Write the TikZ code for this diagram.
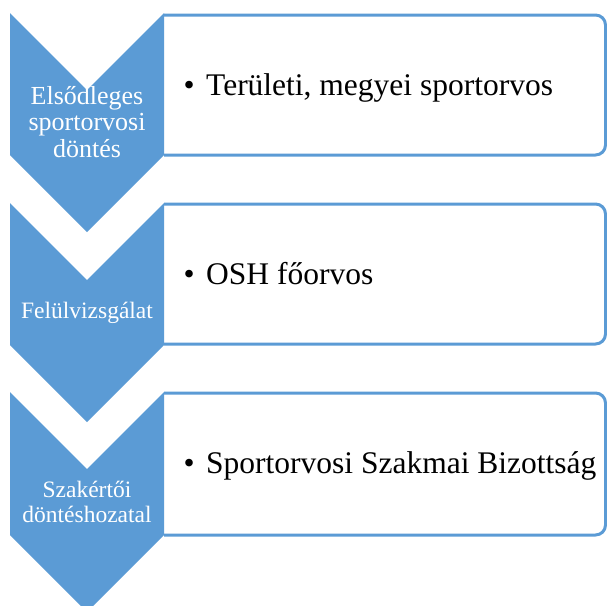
\documentclass[tikz,border=0pt]{standalone}
\usepackage{fontspec}
\setmainfont{Liberation Serif}
\usetikzlibrary{positioning}
\definecolor{stageblue}{RGB}{91,155,213}

\begin{document}
\begin{tikzpicture}[x=1pt,y=-1pt,
  stagebox/.style={draw=stageblue,line width=3pt,fill=white,rounded corners=10pt},
  chevron/.style={fill=stageblue},
  stagelabel/.style={anchor=base,text=white,align=center,inner sep=0pt},
  itemlabel/.style={anchor=base west,inner sep=0pt,font=\fontsize{31.5}{36}\selectfont}]
\useasboundingbox (0,0) rectangle (607,605);
\clip (0,0) rectangle (607,605);
% First stage (base = last line)
\draw[stagebox] (164,15) -- (605.5,15) -- (605.5,155) -- (164,155);
\fill[chevron] (10,13) -- (87,90) -- (164,13) -- (164,155) -- (87,232) -- (10,155) -- cycle;
\node[stagelabel,font=\fontsize{26}{26.3}\selectfont] (stage1) at (87,157) {Elsődleges\\sportorvosi\\döntés};
\node[itemlabel] (item1) at (183.5,95) {\makebox[22.5pt][l]{\textbullet}Területi, megyei sportorvos};
% Second stage
\draw[stagebox] (164,204) -- (605.5,204) -- (605.5,344) -- (164,344);
\fill[chevron] (10,203) -- (87,280) -- (164,203) -- (164,345) -- (87,422) -- (10,345) -- cycle;
\node[stagelabel,font=\fontsize{23.5}{25}\selectfont] (stage2) at (87,318) {Felülvizsgálat};
\node[itemlabel] (item2) at (183.5,284) {\makebox[22.5pt][l]{\textbullet}OSH főorvos};
% Third stage
\draw[stagebox] (164,393) -- (605.5,393) -- (605.5,535) -- (164,535);
\fill[chevron] (10,392) -- (87,469) -- (164,392) -- (164,535) -- (87,612) -- (10,535) -- cycle;
\node[stagelabel,font=\fontsize{23.5}{25}\selectfont] (stage3) at (87,522) {Szakértői\\döntéshozatal};
\node[itemlabel] (item3) at (183.5,473) {\makebox[22.5pt][l]{\textbullet}Sportorvosi Szakmai Bizottság};
\end{tikzpicture}
\end{document}
